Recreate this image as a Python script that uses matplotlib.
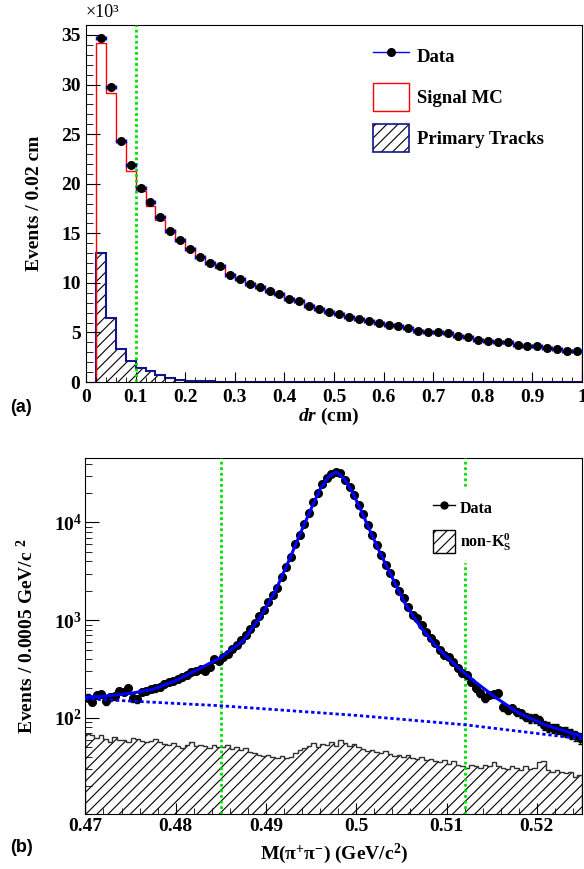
import numpy as np
import matplotlib
matplotlib.use('Agg')
import matplotlib.pyplot as plt
from matplotlib.patches import Patch
from matplotlib.lines import Line2D
from matplotlib.ticker import MultipleLocator, FuncFormatter, LogLocator, NullFormatter, FormatStrFormatter

plt.rcParams['font.family'] = ['Liberation Serif', 'DejaVu Serif']
plt.rcParams['font.weight'] = 'bold'
plt.rcParams['axes.labelweight'] = 'bold'
plt.rcParams['mathtext.fontset'] = 'custom'
plt.rcParams['mathtext.rm'] = 'Liberation Serif:bold'
plt.rcParams['mathtext.it'] = 'Liberation Serif:bold:italic'
plt.rcParams['mathtext.bf'] = 'Liberation Serif:bold'
plt.rcParams['hatch.linewidth'] = 0.8

# ---- (a) dr distribution, bins of 0.02 cm starting at 0.02
dr_lo = 0.02
dr_bin = 0.02
data_dr = [34700, 29700, 24300, 21900, 19600, 18200, 16600, 15200, 14300, 13400,
           12600, 12000, 11700, 10800, 10400, 9900, 9600, 9200, 8900, 8400,
           8200, 7700, 7400, 7100, 6860, 6600, 6400, 6200, 5900, 5750,
           5650, 5400, 5150, 5000, 5000, 4900, 4650, 4500, 4250, 4150,
           4070, 4000, 3770, 3670, 3670, 3460, 3360, 3160, 3100]
mc_dr = [34200, 29100, 24300, 21300, 19300, 17700, 16300, 15300, 14200, 13500,
         12600, 12000, 11500, 10850, 10350, 10000, 9550, 9150, 8850, 8450,
         8150, 7750, 7400, 7100, 6850, 6600, 6400, 6150, 5950, 5750,
         5600, 5400, 5200, 5050, 4950, 4850, 4650, 4500, 4300, 4150,
         4080, 3980, 3800, 3680, 3640, 3480, 3360, 3200, 3120]
prim_dr = [13000, 6500, 3300, 2100, 1450, 1100, 750, 450, 250, 150,
           100, 60, 40, 30, 20, 15, 10, 10, 5, 0,
           0, 0, 0, 0, 0, 0, 0, 0, 0, 0,
           0, 0, 0, 0, 0, 0, 0, 0, 0, 0,
           0, 0, 0, 0, 0, 0, 0, 0, 0]
dr_cut = 0.1

# ---- (b) M(pi+pi-) distribution, bins of 0.0005 GeV/c2 starting at 0.47
m_lo = 0.47
m_bin = 0.0005
data_m = [161, 146, 172, 176, 148, 162, 166, 190, 184, 200,
          158, 155, 186, 190, 196, 200, 206, 224, 234, 236,
          247, 262, 272, 298, 304, 315, 305, 330, 400, 385,
          420, 455, 505, 555, 620, 700, 810, 930, 1090, 1280,
          1530, 1830, 2150, 2780, 3500, 4450, 5950, 7400, 9550, 12400,
          16250, 19800, 24500, 28600, 31000, 33000, 31700, 27100, 23200, 19000,
          15000, 12100, 9380, 7410, 5860, 4630, 3700, 3010, 2380, 2000,
          1670, 1370, 1125, 1040, 889, 759, 659, 577, 493, 439,
          421, 370, 325, 285, 274, 234, 200, 178, 158, 171,
          174, 178, 130, 120, 125, 115, 111, 102, 99, 99,
          95, 84, 81, 78, 77, 73, 72, 69, 66, 62]
nonks_m = [68, 66, 62, 67, 61, 57, 64, 60, 59, 56,
           62, 61, 58, 56, 58, 61, 57, 54, 53, 55,
           52, 49, 53, 57, 52, 53, 51, 49, 53, 50,
           50, 53, 48, 50, 47, 49, 45, 44, 42, 41,
           42, 40, 39, 41, 39, 40, 44, 47, 49, 52,
           55, 50, 54, 53, 57, 52, 59, 55, 52, 54,
           50, 48, 46, 47, 45, 44, 46, 43, 41, 42,
           40, 42, 39, 38, 40, 37, 38, 36, 35, 37,
           34, 36, 33, 32, 31, 33, 32, 31, 33, 32,
           35, 32, 31, 30, 32, 31, 29, 32, 30, 31,
           35, 36, 29, 28, 29, 28, 27, 28, 25, 26]
fit_m = [0.470, 0.4725, 0.475, 0.4775, 0.480, 0.4825, 0.485, 0.4875, 0.4895, 0.491,
         0.4925, 0.494, 0.495, 0.496, 0.497, 0.4978, 0.4986, 0.4995, 0.5005, 0.5015,
         0.5025, 0.504, 0.5055, 0.507, 0.509, 0.511, 0.513, 0.5155, 0.518, 0.521, 0.525]
fit_val = [163, 168, 178, 196, 240, 314, 415, 617, 1120, 1950,
           4000, 8500, 13800, 22000, 29800, 32800, 28500, 21000, 13500, 8300,
           5200, 2700, 1420, 880, 520, 345, 240, 160, 112, 84, 65]
bkg_m = [0.470, 0.485, 0.500, 0.512, 0.525]
bkg_val = [157, 133, 106, 85, 61]
m_cuts = [0.485, 0.512]

navy = '#14148c'
green = '#00e000'

fig = plt.figure(figsize=(5.84, 8.69), dpi=100)

# ================= panel (a)
ax1 = fig.add_axes([86/584, 1-382/869, 496/584, 357/869])
edges = dr_lo + dr_bin*np.arange(len(data_dr)+1)
cent = edges[:-1] + dr_bin/2

ax1.stairs(prim_dr, edges, fill=True, facecolor='white', edgecolor='black', hatch='///', lw=0)
ax1.stairs(prim_dr, edges, color=navy, lw=1.5)
ax1.stairs(mc_dr, edges, color='red', lw=1)
ax1.errorbar(cent, data_dr, xerr=dr_bin/2, yerr=np.sqrt(data_dr), fmt='o', ms=5.5,
             mfc='k', mec='k', ecolor='blue', elinewidth=1, capsize=1.5, zorder=4)
ax1.axvline(dr_cut, color=green, lw=2, ls=(0, (1, 1)), zorder=3)

ax1.set_xlim(0, 1)
ax1.set_ylim(0, 36000)
ax1.xaxis.set_major_locator(MultipleLocator(0.1))
ax1.xaxis.set_minor_locator(MultipleLocator(0.02))
ax1.xaxis.set_major_formatter(FormatStrFormatter('%g'))
ax1.yaxis.set_major_locator(MultipleLocator(5000))
ax1.yaxis.set_minor_locator(MultipleLocator(1000))
ax1.yaxis.set_major_formatter(FuncFormatter(lambda v, p: '%d' % round(v/1000)))
ax1.tick_params(axis='both', which='both', direction='in', top=False, right=False, labelsize=14)
ax1.tick_params(axis='y', which='major', length=10, pad=4)
ax1.tick_params(axis='y', which='minor', length=5)
ax1.tick_params(axis='x', which='major', length=7, pad=5)
ax1.tick_params(axis='x', which='minor', length=3.5)
ax1.set_ylabel('Events / 0.02 cm', fontsize=14)
ax1.yaxis.set_label_coords(-0.087, 0.5)
ax1.set_xlabel('$dr$ (cm)', fontsize=14)
ax1.xaxis.set_label_coords(0.49, -0.068)
ax1.text(0, 1.01, '×10³', transform=ax1.transAxes, ha='left', va='bottom',
         fontsize=13, fontweight='normal')

h_data = Line2D([], [], color='blue', lw=1, marker='o', ms=5.5, mfc='k', mec='k')
h_mc = Patch(facecolor='white', edgecolor='red', lw=1)
h_prim = (Patch(facecolor='white', edgecolor='black', hatch='///', lw=0),
          Patch(facecolor='none', edgecolor=navy, lw=1.2))
ax1.legend([h_data, h_mc, h_prim], ['Data', 'Signal MC', 'Primary Tracks'],
           loc='upper left', bbox_to_anchor=(0.579, 0.952), frameon=False,
           fontsize=13.5, handlelength=1.9, handleheight=1.9, labelspacing=0.7,
           handletextpad=0.44, borderpad=0, borderaxespad=0)

# ================= panel (b)
ax2 = fig.add_axes([85.4/584, 1-814.3/869, 496.6/584, 356.6/869])
medges = m_lo + m_bin*np.arange(len(data_m)+1)
mcent = medges[:-1] + m_bin/2

ax2.stairs(nonks_m, medges, baseline=1, fill=True, facecolor='white', edgecolor='black',
           hatch='///', lw=0)
ax2.stairs(nonks_m, medges, baseline=1, color='#303030', lw=1)
ax2.errorbar(mcent, data_m, xerr=m_bin/2, yerr=np.sqrt(data_m), fmt='o', ms=5.5,
             color='k', elinewidth=1, capsize=1.2, zorder=4)
ax2.plot(bkg_m, bkg_val, color='blue', lw=2, ls=(0, (1.2, 1)), zorder=5)
ax2.plot(fit_m, fit_val, color='blue', lw=2.2, zorder=5)
for c in m_cuts:
    ax2.axvline(c, color=green, lw=2, ls=(0, (1, 1)), zorder=3)

ax2.set_yscale('log')
ax2.set_xlim(0.47, 0.525)
ax2.set_ylim(10.3, 46000)
ax2.xaxis.set_major_locator(MultipleLocator(0.01))
ax2.xaxis.set_minor_locator(MultipleLocator(0.002))
ax2.xaxis.set_major_formatter(FormatStrFormatter('%g'))
ax2.yaxis.set_major_locator(LogLocator(base=10, numticks=10))
ax2.yaxis.set_minor_locator(LogLocator(base=10, subs=np.arange(2, 10), numticks=10))
ax2.yaxis.set_minor_formatter(NullFormatter())
ax2.tick_params(axis='both', which='both', direction='in', top=False, right=False, labelsize=14)
ax2.tick_params(axis='y', which='major', length=10, pad=2.5)
ax2.tick_params(axis='y', which='minor', length=5)
ax2.tick_params(axis='x', which='major', length=8, pad=3)
ax2.tick_params(axis='x', which='minor', length=4)
ax2.set_ylabel('Events / 0.0005 GeV/c $^{2}$', fontsize=14)
ax2.yaxis.set_label_coords(-0.0975, 0.5)
ax2.set_xlabel('M(π$^{+}$π$^{-}$) (GeV/c$^{2}$)', fontsize=14)
ax2.xaxis.set_label_coords(0.5, -0.076)

h_data2 = Line2D([], [], color='k', lw=1, marker='o', ms=5)
h_bg = Patch(facecolor='white', edgecolor='black', hatch='///', lw=1)
leg2 = ax2.legend([h_data2, h_bg], ['Data', r'non-K$_{\mathrm{S}}^{0}$'],
                  loc='upper left', bbox_to_anchor=(0.680, 0.918), frameon=True,
                  fancybox=False, facecolor='white', edgecolor='white', framealpha=1,
                  fontsize=11.5, handlelength=1.4, handleheight=1.8, labelspacing=0.7,
                  handletextpad=0.3, borderpad=0.6, borderaxespad=0)
leg2.set_zorder(6)

fig.text(10/584, 1-407/869, '(a)', family=['Liberation Sans', 'DejaVu Sans'],
         fontweight='bold', fontsize=13, va='center', ha='left')
fig.text(10/584, 1-847/869, '(b)', family=['Liberation Sans', 'DejaVu Sans'],
         fontweight='bold', fontsize=13, va='center', ha='left')

fig.savefig('out.png', dpi=100)
